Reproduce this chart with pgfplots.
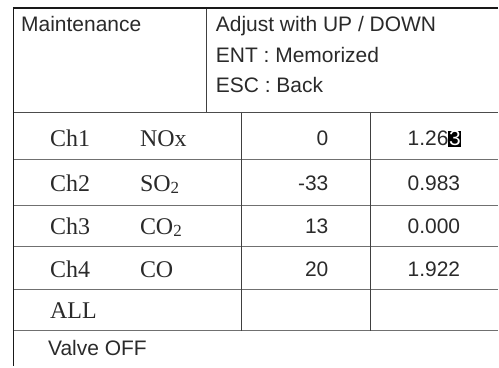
\documentclass[border=0pt]{standalone}
\usepackage{pgfplots}
\usepackage{pgfplotstable}
\pgfplotsset{compat=1.18}
\usepackage{fontspec}
\setmainfont{Liberation Sans}
\newfontfamily\serifft{Liberation Serif}
\newcommand{\sfv}{\fontsize{21}{24}\selectfont}
\newcommand{\srf}{\serifft\fontsize{24}{26}\selectfont}
\newcommand{\sub}[1]{{\fontsize{17}{17}\selectfont\raisebox{-1.5pt}{#1}}}
\newcommand{\hl}[1]{{\setlength{\fboxsep}{0.6pt}\colorbox{black}{\textcolor{white}{#1}}}}

% header texts (x, baseline y)
\pgfplotstableread[col sep=comma]{
x,y,label
21,32,Maintenance
216,32,Adjust with UP / DOWN
216,63,ENT : Memorized
216,93,ESC : Back
48,356,Valve OFF
}\headtab

% channel names (serif)
\pgfplotstableread[col sep=comma]{
x,y,label
50,147,Ch1
140,147,NOx
50,192,Ch2
140,192,SO\sub{2}
50,235,Ch3
140,235,CO\sub{2}
50,278,Ch4
140,278,CO
50,319,ALL
}\chantab

% zero offsets (right aligned)
\pgfplotstableread[col sep=comma]{
x,y,label
329,146,0
329,191,-33
329,234,13
329,277,20
}\zerotab

% span factors
\pgfplotstableread[col sep=comma]{
x,y,label
408,146,1.26\hl{3}
408,191,0.983
408,234,0.000
408,277,1.922
}\spantab

\definecolor{txt}{HTML}{2A2A2A}
\definecolor{grid}{HTML}{707070}

\begin{document}
\begin{tikzpicture}
\begin{axis}[
  scale only axis, width=499pt, height=367pt,
  xmin=0, xmax=499, ymin=0, ymax=367, y dir=reverse,
  hide axis, clip=false,
  point meta=explicit symbolic,
]
\path (axis cs:0,0) rectangle (axis cs:499,367);
% grid lines
\draw[grid, line width=1.2pt] (axis cs:13,160) -- (axis cs:499,160);
\draw[grid, line width=1.2pt] (axis cs:13,206) -- (axis cs:499,206);
\draw[grid, line width=1.2pt] (axis cs:13,247) -- (axis cs:499,247);
\draw[grid, line width=1.2pt] (axis cs:13,290) -- (axis cs:499,290);
\draw[grid, line width=1.2pt] (axis cs:13,331) -- (axis cs:499,331);
\draw[black!75, line width=1.0pt] (axis cs:242,112) -- (axis cs:242,331);
\draw[black!75, line width=1.0pt] (axis cs:371,112) -- (axis cs:371,331);
\draw[black!75, line width=1.0pt] (axis cs:207,8) -- (axis cs:207,112);
\draw[black!70, line width=1.4pt] (axis cs:13,112.5) -- (axis cs:499,112.5);
\draw[black!90, line width=1.4pt] (axis cs:13,8) -- (axis cs:499,8);
\draw[black!90, line width=1.4pt] (axis cs:13.5,8) -- (axis cs:13.5,367);

\addplot[draw=none, mark=none, nodes near coords,
  nodes near coords style={anchor=base west, inner sep=0pt, text=txt, font=\sfv}]
  table[x=x, y=y, meta=label] {\headtab};
\addplot[draw=none, mark=none, nodes near coords,
  nodes near coords style={anchor=base west, inner sep=0pt, text=txt, font=\srf}]
  table[x=x, y=y, meta=label] {\chantab};
\addplot[draw=none, mark=none, nodes near coords,
  nodes near coords style={anchor=base east, inner sep=0pt, text=txt, font=\sfv}]
  table[x=x, y=y, meta=label] {\zerotab};
\addplot[draw=none, mark=none, nodes near coords,
  nodes near coords style={anchor=base west, inner sep=0pt, text=txt, font=\sfv}]
  table[x=x, y=y, meta=label] {\spantab};
\end{axis}
\end{tikzpicture}
\end{document}
